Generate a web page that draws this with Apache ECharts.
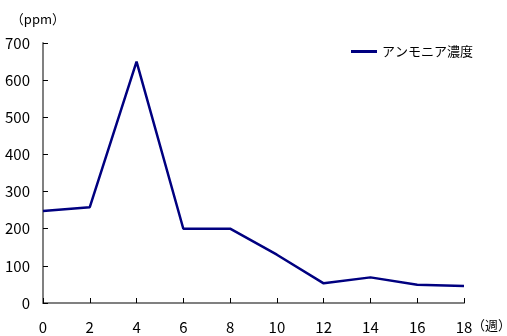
<!DOCTYPE html>
<html>
<head>
<meta charset="utf-8">
<script src="https://cdn.jsdelivr.net/npm/echarts@6/dist/echarts.min.js"></script>
<style>
html,body{margin:0;padding:0;background:#fff;}
#chart{width:507px;height:336px;}
</style>
</head>
<body>
<div id="chart"></div>
<script>
// Weeks and measured ammonia concentration (ppm)
const weeks = [0, 2, 4, 6, 8, 10, 12, 14, 16, 18];
const ammonia = [248, 258, 650, 200, 200, 130, 53, 69, 49, 46];
const seriesName = 'アンモニア濃度';
const yUnit = '（ppm）';
const xUnit = '（週）';

const labelFont = '"Liberation Sans Narrow", "Noto Sans CJK JP", sans-serif';
const cjkFont = '"Noto Sans CJK JP", sans-serif';
const axisGrey = '#808080';

const chart = echarts.init(document.getElementById('chart'), null, {renderer: 'canvas'});
chart.setOption({
  animation: false,
  backgroundColor: '#fff',
  grid: {left: 43, right: 43, top: 43, bottom: 33, containLabel: false, outerBoundsMode: 'none'},
  legend: {
    data: [seriesName],
    left: 346, top: 40,
    itemWidth: 26, itemHeight: 3, itemGap: 2,
    icon: 'rect',
    textStyle: {fontFamily: cjkFont, fontSize: 13, color: '#000'}
  },
  xAxis: {
    type: 'value',
    min: 0, max: 18, interval: 2,
    name: xUnit,
    nameLocation: 'end',
    nameGap: 8,
    nameMoveOverlap: false,
    nameTextStyle: {fontFamily: cjkFont, fontSize: 13, color: '#000', verticalAlign: 'top', padding: [16, 0, 0, 0]},
    axisLine: {lineStyle: {color: axisGrey, width: 2}},
    axisTick: {inside: true, length: 5, lineStyle: {color: '#000', width: 1}},
    axisLabel: {margin: 17, fontFamily: labelFont, fontSize: 15, color: '#000'},
    splitLine: {show: false}
  },
  yAxis: {
    type: 'value',
    min: 0, max: 700, interval: 100,
    name: yUnit,
    nameLocation: 'end',
    nameGap: 17,
    nameMoveOverlap: false,
    nameTextStyle: {fontFamily: cjkFont, fontSize: 13, color: '#000', align: 'right', padding: [0, -22, 0, 0]},
    axisLine: {show: true, lineStyle: {color: axisGrey, width: 2}},
    axisTick: {show: true, inside: true, length: 5, lineStyle: {color: '#000', width: 1}},
    axisLabel: {margin: 13, fontFamily: labelFont, fontSize: 15, color: '#000'},
    splitLine: {show: false}
  },
  series: [{
    name: seriesName,
    type: 'line',
    data: weeks.map((w, i) => [w, ammonia[i]]),
    showSymbol: false,
    symbol: 'none',
    lineStyle: {color: '#000080', width: 2.5},
    itemStyle: {color: '#000080'}
  }]
});
</script>
</body>
</html>
